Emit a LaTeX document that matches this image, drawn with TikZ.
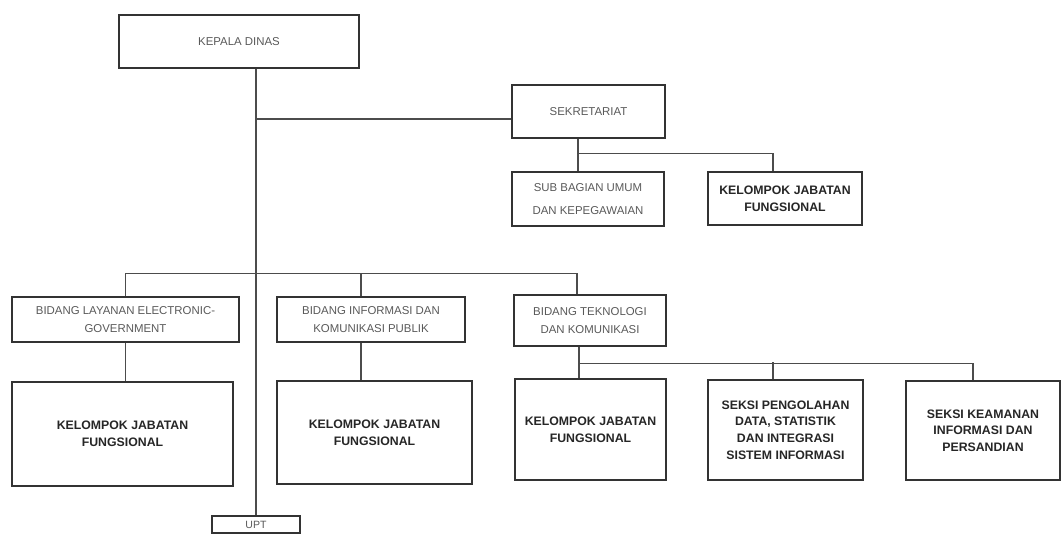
\documentclass[tikz,border=0pt]{standalone}
\usepackage{fontspec}
\setmainfont{Liberation Sans}
\usepackage{tikz}

\begin{document}
\begin{tikzpicture}[x=0.02cm,y=-0.02cm,
  unit node/.style={draw=black!80,line width=0.8pt,align=center,text=black!65,font=\fontsize{6.5}{10.5}\selectfont},
  group node/.style={unit node,text=black!85,font=\fontsize{7}{9.5}\selectfont\bfseries},
  link/.style={draw=black!70,line width=0.6pt}]
\useasboundingbox (0,0) rectangle (1062,534);

\node[unit node, minimum width=4.8cm, minimum height=1.06cm] (kd) at (239,41.5) {KEPALA DINAS};
\node[unit node, minimum width=3.06cm, minimum height=1.06cm] (sek) at (588.5,111.5) {SEKRETARIAT};
\node[unit node, minimum width=3.04cm, minimum height=1.08cm] (sbu) at (588,199) {SUB BAGIAN UMUM\\[3pt]DAN KEPEGAWAIAN};
\node[group node, minimum width=3.08cm, minimum height=1.06cm] (kjfs) at (785,198.5) {KELOMPOK JABATAN\\FUNGSIONAL};

\node[unit node, minimum width=4.54cm, minimum height=0.9cm] (b1) at (125.5,319.5) {BIDANG LAYANAN ELECTRONIC-\\GOVERNMENT};
\node[unit node, minimum width=3.76cm, minimum height=0.9cm] (b2) at (371,319.5) {BIDANG INFORMASI DAN\\KOMUNIKASI PUBLIK};
\node[unit node, minimum width=3.04cm, minimum height=1.02cm] (b3) at (590,320.5) {BIDANG TEKNOLOGI\\DAN KOMUNIKASI};

\node[group node, minimum width=4.42cm, minimum height=2.08cm] (kjf1) at (122.5,434) {KELOMPOK JABATAN\\FUNGSIONAL};
\node[group node, minimum width=3.9cm, minimum height=2.06cm] (kjf2) at (374.5,432.5) {KELOMPOK JABATAN\\FUNGSIONAL};
\node[group node, minimum width=3.02cm, minimum height=2.02cm] (kjf3) at (590.5,429.5) {KELOMPOK JABATAN\\FUNGSIONAL};
\node[group node, minimum width=3.1cm, minimum height=2cm] (sp) at (785.5,430) {SEKSI PENGOLAHAN\\DATA, STATISTIK\\DAN INTEGRASI\\SISTEM INFORMASI};
\node[group node, minimum width=3.08cm, minimum height=1.98cm] (sk) at (983,430.5) {SEKSI KEAMANAN\\INFORMASI DAN\\PERSANDIAN};

\node[unit node, minimum width=1.76cm, minimum height=0.34cm, inner sep=0pt, font=\fontsize{6}{7}\selectfont] (upt) at (256,524.5) {UPT};

\coordinate (sekin) at ([yshift=-0.15cm]sek.west);
\coordinate (sekout) at ([xshift=-0.21cm]sek.south);
\coordinate (b3out) at ([xshift=-0.22cm]b3.south);

\draw[link] (kd.south -| upt.north) -- (upt.north);
\draw[link] (upt.north |- sekin) -- (sekin);
\draw[link] (sekout) -- (sekout |- sbu.north);
\draw[link] (sekout) ++(0,15) -| ([xshift=-0.24cm]kjfs.north);

\draw[link] (b1.north) -- ++(0,-23) -| ([xshift=-0.26cm]b3.north);
\draw[link] ([xshift=-0.2cm]b2.north) -- ++(0,-23);
\draw[link] (b1.south) -- (b1.south |- kjf1.north);
\draw[link] ([xshift=-0.2cm]b2.south) -- ([xshift=-0.2cm]b2.south |- kjf2.north);

\draw[link] (b3out) -- (b3out |- kjf3.north);
\draw[link] (b3out) ++(0,17) -| ([xshift=-0.2cm]sk.north);
\draw[link] ([xshift=-0.25cm]sp.north) -- ++(0,-17);
\end{tikzpicture}
\end{document}
